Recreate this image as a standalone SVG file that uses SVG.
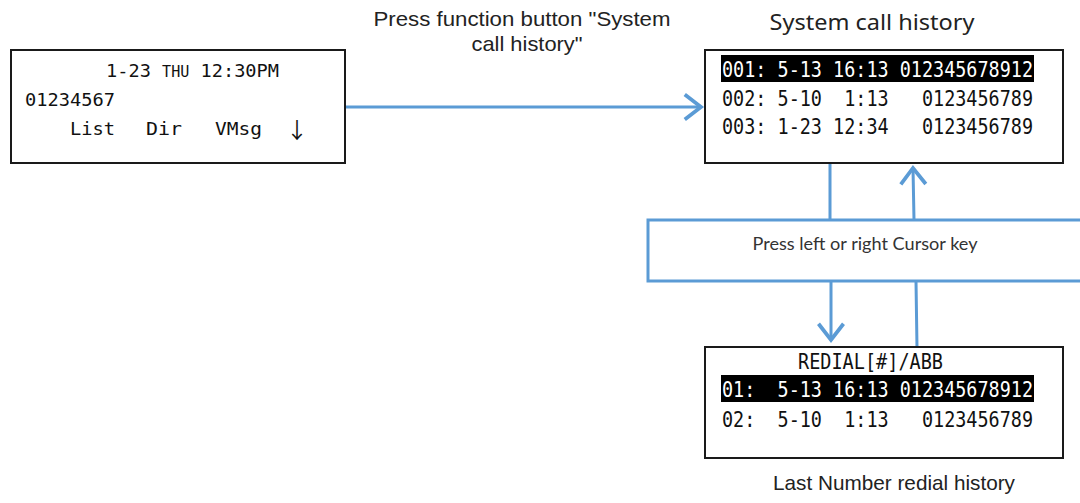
<svg xmlns="http://www.w3.org/2000/svg" width="1080" height="503" viewBox="0 0 1080 503">
<style>
.lcd{fill:#fff;stroke:#1a1a1a;stroke-width:2}
.mono{font-family:"DejaVu Sans Mono","Liberation Mono",monospace;fill:#111}
.monoL{font-family:"DejaVu Sans Mono","Liberation Mono",monospace;font-size:18.5px;fill:#111}
.monoR{font-size:21px}
.inv{fill:#fff}
.hl{fill:#000}
.lbl{font-family:"Liberation Sans",Arial,sans-serif;font-size:21px;fill:#222}
.title{font-family:"Noto Sans","Open Sans",sans-serif;font-size:21px;fill:#222}
.key{font-family:Lato,"Open Sans",sans-serif;font-size:18px;fill:#333}
.conn{fill:none;stroke:#5B9BD5;stroke-width:3}
.keybox{fill:#fff;stroke:#5B9BD5;stroke-width:3}
.arrowch{font-family:"Noto Sans CJK JP","DejaVu Sans",sans-serif;font-size:22px;fill:#111}
</style>
<defs>
<marker id="arr" markerUnits="userSpaceOnUse" markerWidth="30" markerHeight="30" viewBox="-16 -12 20 24" refX="0" refY="0" orient="auto">
<path d="M-13,-10 L0,0 L-13,10" fill="none" stroke="#5B9BD5" stroke-width="3"/>
</marker>
</defs>
<rect width="1080" height="503" fill="#fff"/>

<g id="connectors">
<path class="conn" d="M345,107 L701,107" marker-end="url(#arr)"/>
<text class="lbl" x="522" y="26" text-anchor="middle" textLength="297" lengthAdjust="spacingAndGlyphs">Press function button "System</text>
<text class="lbl" x="527" y="51" text-anchor="middle" textLength="111" lengthAdjust="spacingAndGlyphs">call history"</text>
<path class="conn" d="M830,163 L830,220 M831,281 L831,340" marker-end="url(#arr)"/>
<path class="conn" d="M917,348 L916,281 M914,220 L913,168" marker-end="url(#arr)"/>
</g>

<g id="idle-display">
<rect class="lcd" x="11" y="50" width="334" height="113"/>
<text class="monoL" x="106" y="77" textLength="173" lengthAdjust="spacingAndGlyphs" xml:space="preserve">1-23 <tspan font-size="15">THU</tspan> 12:30PM</text>
<text class="monoL" x="25" y="106" textLength="90" lengthAdjust="spacingAndGlyphs">01234567</text>
<text class="monoL" x="70" y="135" textLength="45" lengthAdjust="spacingAndGlyphs">List</text>
<text class="monoL" x="146" y="135" textLength="36" lengthAdjust="spacingAndGlyphs">Dir</text>
<text class="monoL" x="215" y="135" textLength="47" lengthAdjust="spacingAndGlyphs">VMsg</text>
<text class="arrowch" x="297" y="138" text-anchor="middle">↓</text>
</g>

<g id="system-call-history">
<text class="title" x="872" y="30" text-anchor="middle" textLength="205" lengthAdjust="spacingAndGlyphs">System call history</text>
<rect class="lcd" x="705" y="50" width="358" height="113"/>
<rect class="hl" x="721" y="55" width="313" height="27"/>
<text class="mono monoR inv" x="722" y="77" textLength="311" lengthAdjust="spacingAndGlyphs" xml:space="preserve">001: 5-13 16:13 012345678912</text>
<text class="mono monoR" x="722" y="106" textLength="311" lengthAdjust="spacingAndGlyphs" xml:space="preserve">002: 5-10  1:13   0123456789</text>
<text class="mono monoR" x="722" y="134" textLength="311" lengthAdjust="spacingAndGlyphs" xml:space="preserve">003: 1-23 12:34   0123456789</text>
</g>

<g id="cursor-key">
<rect class="keybox" x="648" y="220" width="450" height="61"/>
<text class="key" x="865" y="250" text-anchor="middle" textLength="225" lengthAdjust="spacingAndGlyphs">Press left or right Cursor key</text>
</g>

<g id="redial-history">
<rect class="lcd" x="705" y="347" width="358" height="111"/>
<text class="mono monoR" x="798" y="369" textLength="145" lengthAdjust="spacingAndGlyphs">REDIAL[#]/ABB</text>
<rect class="hl" x="721" y="375" width="313" height="27"/>
<text class="mono monoR inv" x="722" y="397" textLength="311" lengthAdjust="spacingAndGlyphs" xml:space="preserve">01:  5-13 16:13 012345678912</text>
<text class="mono monoR" x="722" y="427" textLength="311" lengthAdjust="spacingAndGlyphs" xml:space="preserve">02:  5-10  1:13   0123456789</text>
<text class="lbl" x="894" y="490" text-anchor="middle" textLength="242" lengthAdjust="spacingAndGlyphs">Last Number redial history</text>
</g>
</svg>
